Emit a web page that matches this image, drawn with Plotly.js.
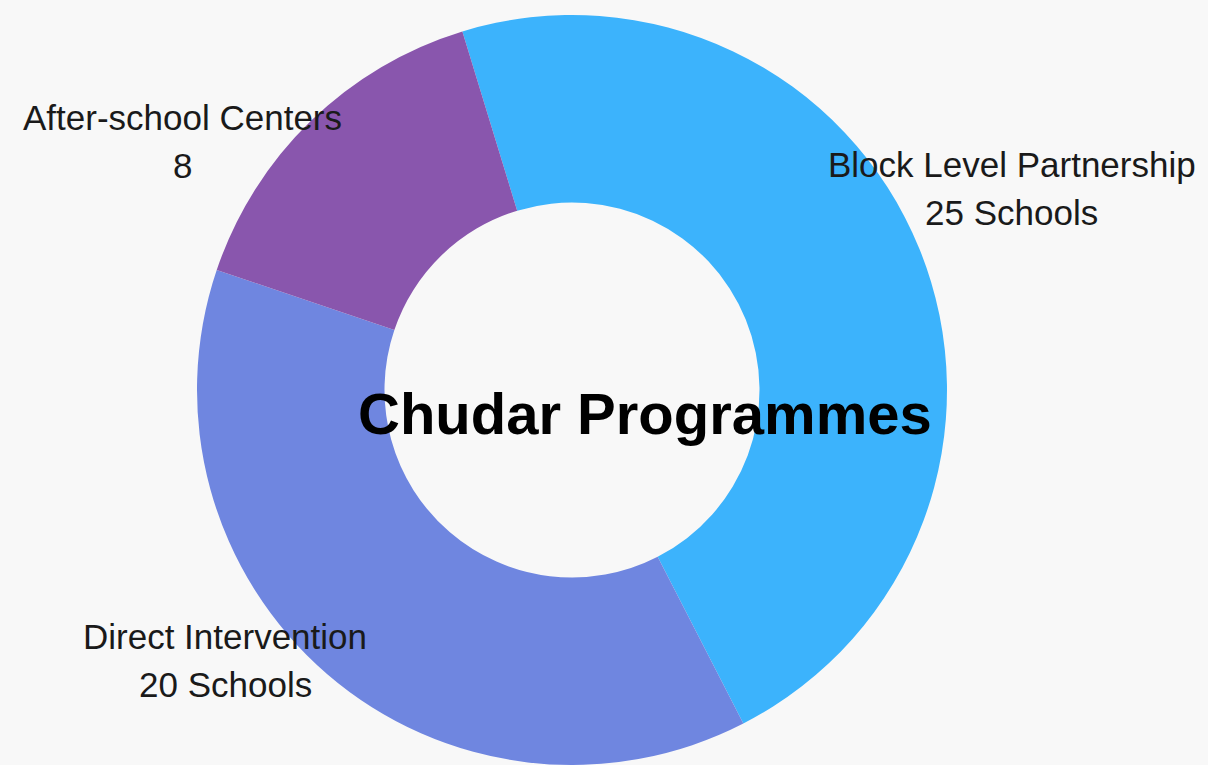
<!DOCTYPE html>
<html>
<head>
<meta charset="utf-8">
<script src="https://cdn.plot.ly/plotly-3.0.1.min.js"></script>
<style>html,body{margin:0;padding:0;background:#f8f8f8;}#chart{width:1208px;height:765px;}</style>
</head>
<body>
<div id="chart"></div>
<script>
// Data
const categories = ["Block Level Partnership", "Direct Intervention", "After-school Centers"];
const values = [25, 20, 8];
const valueLabels = ["25 Schools", "20 Schools", "8"];
const centerTitle = "Chudar Programmes";
const colors = ["#3cb3fc", "#6f86e0", "#8956ad"];

// Label placement (pixels in the 1208x765 canvas): [centerX, line1Y, line2Y]
const labelPos = [[1012, 164, 212], [225, 636, 684], [182, 117, 165]];

const W = 1208, H = 765;
const px = x => x / W;
const py = y => (H - y) / H;

const labelFont = {family: 'Liberation Sans, Arial, sans-serif', size: 35, color: '#1a1a1a'};
const annotations = [];
categories.forEach((c, i) => {
  const p = labelPos[i];
  annotations.push({text: c, x: px(p[0]), y: py(p[1]), xref: 'paper', yref: 'paper',
    xanchor: 'center', yanchor: 'middle', showarrow: false, font: labelFont});
  annotations.push({text: valueLabels[i], x: px(p[0]), y: py(p[2]), xref: 'paper', yref: 'paper',
    xanchor: 'center', yanchor: 'middle', showarrow: false, font: labelFont});
});
annotations.push({text: '<b>' + centerTitle + '</b>', x: px(645), y: py(413), xref: 'paper', yref: 'paper',
  xanchor: 'center', yanchor: 'middle', showarrow: false,
  font: {family: 'Liberation Sans, Arial, sans-serif', size: 58, color: '#000000'}});

const trace = {
  type: 'pie',
  labels: categories,
  values: values,
  hole: 0.5,
  sort: false,
  direction: 'clockwise',
  rotation: -17,
  textinfo: 'none',
  hoverinfo: 'label+value',
  marker: {colors: colors, line: {width: 0}},
  domain: {x: [px(197), px(947)], y: [py(765), py(15)]},
  showlegend: false
};

const layout = {
  width: W, height: H,
  margin: {l: 0, r: 0, t: 0, b: 0},
  paper_bgcolor: '#f8f8f8',
  plot_bgcolor: '#f8f8f8',
  showlegend: false,
  annotations: annotations
};

Plotly.newPlot('chart', [trace], layout, {displayModeBar: false, staticPlot: true});
</script>
</body>
</html>
